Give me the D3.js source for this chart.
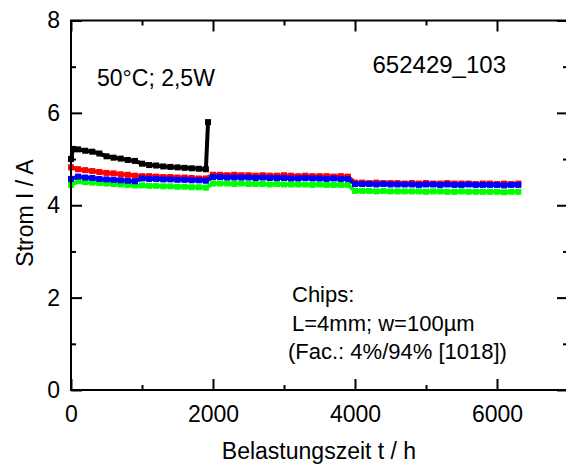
<!DOCTYPE html>
<html>
<head>
<meta charset="utf-8">
<script src="https://cdn.jsdelivr.net/npm/d3@7"></script>
<style>
body { margin:0; background:#fff; }
text { font-family: "Liberation Sans", Arial, sans-serif; fill:#000; }
.tick line { stroke:#000; stroke-width:2px; }
.tick text { font-size:23px; }
</style>
</head>
<body>
<div id="chart"></div>
<script>
// stress time in hours (shared by red, blue, green)
var hours = [0,100,200,300,400,500,600,700,800,900,
	1000,1100,1200,1300,1400,1500,1600,1700,1800,1900,
	2000,2100,2200,2300,2400,2500,2600,2700,2800,2900,
	3000,3100,3200,3300,3400,3500,3600,3700,3800,3900,
	4000,4100,4200,4300,4400,4500,4600,4700,4800,4900,
	5000,5100,5200,5300,5400,5500,5600,5700,5800,5900,
	6000,6100,6200,6300];

var redI = [4.82,4.78,4.76,4.74,4.72,4.70,4.69,4.67,4.66,4.64,4.63,4.63,4.62,4.61,4.61,4.60,4.60,4.59,4.58,4.58,
	4.66,4.66,4.65,4.66,4.65,4.65,4.64,4.65,4.64,4.64,4.65,4.64,4.63,4.64,4.63,4.63,4.63,4.62,4.63,4.62,
	4.49,4.49,4.48,4.49,4.48,4.48,4.48,4.47,4.48,4.47,4.48,4.47,4.47,4.48,4.47,4.47,4.47,4.46,4.47,4.47,4.46,4.47,4.46,4.47];

var blueI = [4.57,4.62,4.60,4.59,4.57,4.56,4.55,4.54,4.53,4.52,4.58,4.57,4.57,4.56,4.56,4.55,4.55,4.54,4.54,4.53,
	4.61,4.61,4.60,4.60,4.60,4.60,4.59,4.60,4.59,4.59,4.59,4.58,4.58,4.59,4.58,4.58,4.57,4.58,4.57,4.57,
	4.46,4.46,4.46,4.45,4.46,4.45,4.45,4.45,4.45,4.44,4.45,4.45,4.44,4.45,4.44,4.44,4.45,4.44,4.44,4.44,4.44,4.43,4.44,4.44];

var greenI = [4.44,4.52,4.50,4.49,4.48,4.47,4.46,4.45,4.44,4.43,4.43,4.42,4.42,4.41,4.41,4.40,4.40,4.39,4.39,4.38,
	4.47,4.47,4.47,4.46,4.47,4.46,4.46,4.46,4.45,4.46,4.45,4.45,4.45,4.45,4.44,4.45,4.44,4.44,4.44,4.44,
	4.31,4.31,4.31,4.30,4.31,4.30,4.30,4.30,4.30,4.30,4.29,4.30,4.30,4.29,4.29,4.30,4.29,4.29,4.29,4.29,4.29,4.28,4.29,4.29];

// black chip failed after ~1930 h
var blackHours = [0,30,100,200,300,400,500,600,700,800,900,1000,1100,1200,1300,1400,1500,1600,1700,1800,1900,1930];
var blackI = [5.00,5.22,5.21,5.18,5.16,5.12,5.06,5.03,5.01,4.98,4.96,4.90,4.87,4.86,4.84,4.83,4.82,4.81,4.80,4.79,4.78,5.80];

var xMajor = [0,2000,4000,6000], xMinor = [1000,3000,5000];
var yMajor = [0,2,4,6,8], yMinor = [1,3,5,7];

var W = 566, H = 470;
var margin = { top:20.5, left:71 };
var x = d3.scaleLinear().domain([0,7000]).range([margin.left, 568]);
var y = d3.scaleLinear().domain([0,8]).range([390, margin.top]);

var svg = d3.select("#chart").append("svg")
	.attr("width", W).attr("height", H);

function pairs(t, v) { return t.map(function(d, i) { return [d, v[i]]; }); }

var series = [
	{ c:"#00ff00", d:pairs(hours, greenI) },
	{ c:"#ff0000", d:pairs(hours, redI) },
	{ c:"#0000ff", d:pairs(hours, blueI) },
	{ c:"#000000", d:pairs(blackHours, blackI) }
];

var line = d3.line()
	.x(function(d) { return x(d[0]); })
	.y(function(d) { return y(d[1]); });

series.forEach(function(s) {
	var g = svg.append("g");
	g.append("path").datum(s.d).attr("d", line)
		.attr("fill", "none").attr("stroke", s.c).attr("stroke-width", 4);
	g.selectAll("rect").data(s.d).enter().append("rect")
		.attr("x", function(d) { return x(d[0]) - 3; })
		.attr("y", function(d) { return y(d[1]) - 3; })
		.attr("width", 6).attr("height", 6)
		.attr("fill", s.c);
});

// axes, ticks pointing inwards on all four sides
function ax(a, vals, size, labels, pad) {
	var r = a.tickValues(vals).tickSizeInner(-size).tickSizeOuter(0).tickPadding(pad || 0);
	r.tickFormat(labels ? d3.format("d") : "");
	return r;
}
var gBottom = svg.append("g").attr("transform", "translate(0,390)");
gBottom.append("g").call(ax(d3.axisBottom(x), xMajor, 11, true, 16));
gBottom.append("g").call(ax(d3.axisBottom(x), xMinor, 5, false));
var gTop = svg.append("g").attr("transform", "translate(0," + margin.top + ")");
gTop.append("g").call(ax(d3.axisTop(x), xMajor, 11, false));
gTop.append("g").call(ax(d3.axisTop(x), xMinor, 5, false));
var gLeft = svg.append("g").attr("transform", "translate(" + margin.left + ",0)");
gLeft.append("g").call(ax(d3.axisLeft(y), yMajor, 11, true, 11));
gLeft.append("g").call(ax(d3.axisLeft(y), yMinor, 5, false));
var gRight = svg.append("g").attr("transform", "translate(568,0)");
gRight.append("g").call(ax(d3.axisRight(y), yMajor, 11, false));
gRight.append("g").call(ax(d3.axisRight(y), yMinor, 5, false));
svg.selectAll(".domain").remove();
svg.selectAll(".tick text").attr("font-family", null).attr("font-size", null);

svg.append("rect")
	.attr("x", margin.left).attr("y", margin.top)
	.attr("width", 568 - margin.left).attr("height", 390 - margin.top)
	.attr("fill", "none").attr("stroke", "#000").attr("stroke-width", 2);

// titles
svg.append("text").attr("x", 319).attr("y", 459)
	.attr("text-anchor", "middle").style("font-size", "23px")
	.text("Belastungszeit t / h");
svg.append("text").attr("transform", "translate(33,213) rotate(-90)")
	.attr("text-anchor", "middle").style("font-size", "23px")
	.text("Strom I / A");

// annotations
svg.append("text").attr("x", 97).attr("y", 86).style("font-size", "23px").text("50°C; 2,5W");
svg.append("text").attr("x", 506).attr("y", 73).attr("text-anchor", "end").style("font-size", "24px").text("652429_103");
var notes = ["Chips:", "L=4mm; w=100\u00b5m", "(Fac.: 4%/94% [1018])"];
svg.selectAll(".note").data(notes).enter().append("text")
	.attr("class", "note")
	.attr("x", function(d, i) { return i < 2 ? 292 : 288; })
	.attr("y", function(d, i) { return 302 + i * 28.5; })
	.style("font-size", "22px")
	.text(function(d) { return d; });
</script>
</body>
</html>
